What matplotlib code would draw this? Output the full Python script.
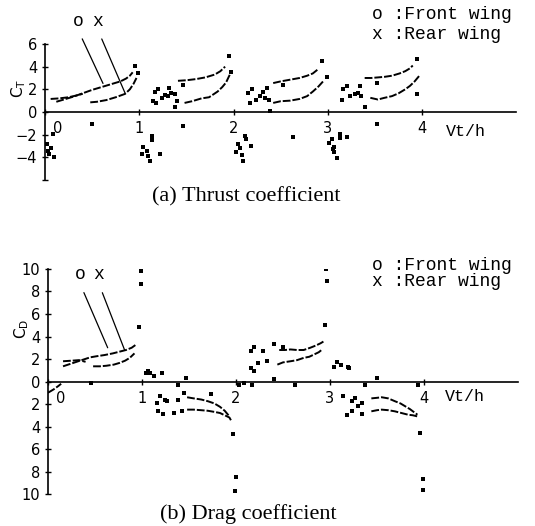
import matplotlib
matplotlib.use("Agg")
from matplotlib import pyplot as plt
from matplotlib import transforms as mtransforms
from matplotlib.ticker import FuncFormatter

# ---------------- (a) thrust coefficient ----------------
# smooth parts of each cycle: (x, y)
ct_front_curves = [
    ([0.12, 0.20, 0.30, 0.40, 0.50, 0.60, 0.70, 0.80, 0.86, 0.90, 0.93],
     [0.90, 1.10, 1.35, 1.65, 1.95, 2.20, 2.45, 2.70, 2.95, 3.20, 3.50]),
    ([1.41, 1.50, 1.60, 1.70, 1.80, 1.86, 1.91],
     [2.75, 2.80, 2.90, 3.05, 3.30, 3.60, 4.00]),
    ([2.42, 2.50, 2.60, 2.70, 2.78, 2.84, 2.90],
     [2.55, 2.70, 2.85, 3.00, 3.20, 3.40, 3.80]),
    ([3.39, 3.46, 3.53, 3.60, 3.68, 3.76, 3.82, 3.87, 3.90],
     [3.00, 3.00, 3.05, 3.10, 3.20, 3.40, 3.60, 3.85, 4.10]),
]
ct_rear_curves = [
    ([0.06, 0.15, 0.25, 0.33, 0.40], [1.15, 1.20, 1.30, 1.45, 1.60]),
    ([0.48, 0.55, 0.65, 0.75, 0.85, 0.90, 0.94, 0.97],
     [0.85, 0.90, 1.05, 1.30, 1.60, 2.00, 2.50, 3.00]),
    ([1.48, 1.56, 1.66, 1.74, 1.83, 1.88, 1.92, 1.96],
     [0.80, 0.95, 1.20, 1.30, 1.80, 2.20, 2.60, 3.30]),
    ([2.42, 2.50, 2.60, 2.70, 2.78, 2.84, 2.90, 2.96],
     [0.80, 0.95, 1.00, 1.15, 1.40, 1.80, 2.25, 2.80]),
    ([3.45, 3.53, 3.60, 3.68, 3.75, 3.82, 3.87, 3.92, 3.97],
     [1.25, 1.10, 1.25, 1.40, 1.65, 2.00, 2.30, 2.70, 3.20]),
]
# isolated points
ct_front_dots_x = [0.95, 0.02, 0.04, 0.08, 0.50,
                   1.95, 1.17, 1.20, 1.27, 1.32, 1.34, 1.46, 1.04, 1.09, 1.13, 1.13, 1.46,
                   2.94, 2.15, 2.19, 2.28, 2.31, 2.35, 2.52, 2.05, 2.09, 2.12, 2.13, 2.63,
                   3.95, 3.16, 3.20, 3.29, 3.32, 3.34, 3.52, 3.04, 3.05, 3.13, 3.13, 3.52]
ct_front_dots_y = [4.10, -2.80, -3.70, -1.90, -1.05,
                   4.90, 1.80, 2.00, 1.50, 2.10, 1.70, 2.40, -3.10, -3.90, -2.10, -2.50, -1.20,
                   4.50, 1.70, 2.00, 1.40, 1.80, 2.10, 2.40, -2.80, -3.80, -2.10, -2.40, -2.20,
                   4.70, 2.00, 2.30, 1.55, 1.70, 2.30, 2.55, -2.40, -3.30, -1.90, -2.30, -1.10]
ct_rear_dots_x = [0.99, 0.03, 0.06, 0.10,
                  1.97, 1.15, 1.18, 1.24, 1.30, 1.38, 1.40, 1.38, 1.025, 1.08, 1.11, 1.22,
                  2.99, 2.17, 2.24, 2.33, 2.38, 2.39, 2.03, 2.07, 2.10, 2.18,
                  3.94, 3.15, 3.23, 3.35, 3.39, 3.01, 3.06, 3.07, 3.10, 3.20]
ct_rear_dots_y = [3.40, -3.40, -3.20, -4.00,
                  3.50, 0.95, 0.75, 1.25, 1.40, 1.55, 0.95, 0.40, -3.70, -3.40, -4.30, -3.70,
                  3.10, 0.80, 1.10, 1.25, 1.10, 0.10, -3.50, -3.20, -4.30, -3.00,
                  1.55, 1.10, 1.40, 1.40, 0.40, -2.70, -3.10, -3.50, -4.10, -2.20]

# ---------------- (b) drag coefficient ----------------
cd_front_curves = [
    ([0.16, 0.25, 0.34, 0.45, 0.52, 0.60, 0.69, 0.76, 0.83, 0.89, 0.94],
     [1.35, 1.60, 1.85, 2.15, 2.25, 2.35, 2.50, 2.65, 2.80, 3.00, 3.30]),
    ([1.48, 1.55, 1.63, 1.70, 1.77, 1.83, 1.88, 1.93],
     [-1.40, -1.50, -1.60, -1.75, -1.95, -2.25, -2.60, -3.10]),
    ([2.46, 2.52, 2.58, 2.65, 2.72, 2.79, 2.85, 2.90, 2.93],
     [2.80, 2.80, 2.85, 2.80, 2.80, 3.00, 3.20, 3.40, 3.55]),
    ([3.44, 3.50, 3.55, 3.62, 3.69, 3.75, 3.80, 3.85, 3.89, 3.93],
     [-1.50, -1.45, -1.40, -1.50, -1.75, -1.95, -2.20, -2.45, -2.70, -2.95]),
]
cd_rear_curves = [
    ([0.16, 0.25, 0.33, 0.40], [1.80, 1.85, 1.90, 1.75]),
    ([0.48, 0.55, 0.62, 0.70, 0.76, 0.82, 0.87, 0.92],
     [1.35, 1.35, 1.40, 1.50, 1.65, 1.85, 2.10, 2.50]),
    ([1.48, 1.55, 1.63, 1.70, 1.77, 1.83, 1.88, 1.93, 1.95],
     [-2.50, -2.50, -2.55, -2.60, -2.70, -2.80, -3.00, -3.20, -3.50]),
    ([2.44, 2.50, 2.58, 2.65, 2.72, 2.78, 2.83, 2.88, 2.91],
     [1.50, 1.70, 1.80, 1.90, 2.10, 2.20, 2.40, 2.60, 2.80]),
    ([3.44, 3.50, 3.55, 3.62, 3.69, 3.76, 3.83, 3.88, 3.93],
     [-2.65, -2.55, -2.50, -2.55, -2.65, -2.80, -2.95, -3.00, -3.10]),
    ([0.00, 0.06, 0.11, 0.14], [-1.00, -0.70, -0.40, -0.20]),
]
cd_front_dots_x = [0.97, 0.99, 0.99, 0.46,
                   1.04, 1.06, 1.09, 1.13, 1.21, 1.47, 1.19, 1.25, 1.38, 1.45, 1.73,
                   1.97, 2.00, 1.99,
                   2.95, 2.97, 2.96, 2.16, 2.19, 2.29, 2.40, 2.50, 2.40,
                   3.04, 3.07, 3.12, 3.19, 3.50, 3.14, 3.23, 3.27, 3.34,
                   3.96, 3.99, 3.99]
cd_front_dots_y = [4.85, 8.70, 9.85, -0.10,
                   0.75, 0.90, 0.75, 0.50, 0.75, 0.30, -1.30, -1.60, -1.60, -1.00, -1.15,
                   -4.70, -8.50, -9.70,
                   5.00, 8.90, 10.0, 2.70, 3.10, 2.70, 3.30, 3.10, 0.20,
                   1.30, 1.70, 1.50, 1.30, 0.30, -1.30, -1.75, -1.50, -1.90,
                   -4.60, -8.70, -9.60]
cd_rear_dots_x = [1.38, 1.16, 1.17, 1.22, 1.27, 1.34, 1.43,
                  2.03, 2.08, 2.17, 2.63, 2.19, 2.16, 2.23, 2.33,
                  3.20, 3.37, 3.18, 3.23, 3.30, 3.34, 3.94]
cd_rear_dots_y = [-0.30, -1.90, -2.60, -2.90, -1.75, -2.80, -2.60,
                  -0.30, -0.10, -0.35, -0.27, 0.90, 1.20, 1.65, 1.80,
                  1.20, -0.30, -2.95, -2.65, -2.20, -2.90, -0.30]

x_ticks = [0, 1, 2, 3, 4]
ct_ticks = [-6, -4, -2, 0, 2, 4, 6]
cd_ticks = [-10, -8, -6, -4, -2, 0, 2, 4, 6, 8, 10]

MONO = "Liberation Mono"


def draw_panel(ax, front_curves, rear_curves, dots, ylim, yticks, yfmt):
    for cx, cy in front_curves + rear_curves:
        ax.plot(cx, cy, color="k", lw=1.4, ls=(0, (4, 1)), solid_capstyle="round")
    for dx, dy in dots:
        ax.scatter(dx, dy, s=5, c="k", marker="s", linewidths=0)

    ax.set_xlim(0, 5)
    ax.set_ylim(*ylim)
    for side in ("top", "right"):
        ax.spines[side].set_visible(False)
    ax.spines["bottom"].set_position(("data", 0))
    ax.spines["bottom"].set_linewidth(1.2)
    ax.spines["left"].set_linewidth(1.2)
    ax.set_xticks(x_ticks)
    ax.set_yticks(yticks)
    ax.yaxis.set_major_formatter(FuncFormatter(yfmt))
    ax.tick_params(direction="inout", length=5, width=1, labelsize=10.5, pad=3)
    ax.tick_params(axis="x", pad=4)
    # the "0" label sits to the right of the corner
    lab0 = ax.get_xticklabels()[0]
    lab0.set_transform(lab0.get_transform()
                       + mtransforms.ScaledTranslation(0.13, 0, ax.figure.dpi_scale_trans))


fig = plt.figure(figsize=(5.35, 5.26), dpi=100)
ax_a = fig.add_axes([0.0841, 0.6578, 0.8813, 0.2586])
ax_b = fig.add_axes([0.0897, 0.0608, 0.8785, 0.4278])

draw_panel(ax_a, ct_front_curves, ct_rear_curves,
           [(ct_front_dots_x, ct_front_dots_y), (ct_rear_dots_x, ct_rear_dots_y)],
           (-6, 6), ct_ticks, lambda v, p: "" if v == -6 else f"{v:g}".replace("-", "\u2212"))
draw_panel(ax_b, cd_front_curves, cd_rear_curves,
           [(cd_front_dots_x, cd_front_dots_y), (cd_rear_dots_x, cd_rear_dots_y)],
           (-10, 10), cd_ticks, lambda v, p: f"{abs(v):g}")

# axis names
ax_a.text(-0.055, 2.1, r"C$_\mathrm{T}$", transform=ax_a.get_yaxis_transform(),
          rotation=90, ha="center", va="center", fontsize=11)
ax_b.text(-0.055, 4.7, r"C$_\mathrm{D}$", transform=ax_b.get_yaxis_transform(),
          rotation=90, ha="center", va="center", fontsize=11)
ax_a.text(4.46, -1.74, "Vt/h", family=MONO, fontsize=12, ha="center", va="center")
ax_b.text(4.44, -1.33, "Vt/h", family=MONO, fontsize=12, ha="center", va="center")

# o / x pointers
arrow = dict(arrowstyle="-", lw=0.9, color="k", relpos=(0.5, 0), shrinkA=5, shrinkB=0)
for ax, o_xy, x_xy, o_txt, x_txt in [
    (ax_a, (0.615, 2.52), (0.85, 1.65), (0.35, 8.0), (0.56, 8.0)),
    (ax_b, (0.635, 3.0), (0.815, 2.8), (0.34, 9.47), (0.54, 9.47)),
]:
    ax.annotate("o", xy=o_xy, xytext=o_txt, family=MONO, fontsize=13,
                ha="center", va="center", arrowprops=arrow, annotation_clip=False)
    ax.annotate("x", xy=x_xy, xytext=x_txt, family=MONO, fontsize=13,
                ha="center", va="center", arrowprops=arrow, annotation_clip=False)

# legend texts
for y1, y2 in [(0.973, 0.935), (0.496, 0.464)]:
    fig.text(0.695, y1, "o :Front wing", family=MONO, fontsize=13, va="center")
    fig.text(0.695, y2, "x :Rear wing", family=MONO, fontsize=13, va="center")

fig.text(0.461, 1 - 197 / 526, "(a) Thrust coefficient", family="Liberation Serif",
         fontsize=16, ha="center", va="center")
fig.text(0.464, 1 - 514 / 526, "(b) Drag coefficient", family="Liberation Serif",
         fontsize=16, ha="center", va="center")

fig.savefig("out.png", dpi=100)
